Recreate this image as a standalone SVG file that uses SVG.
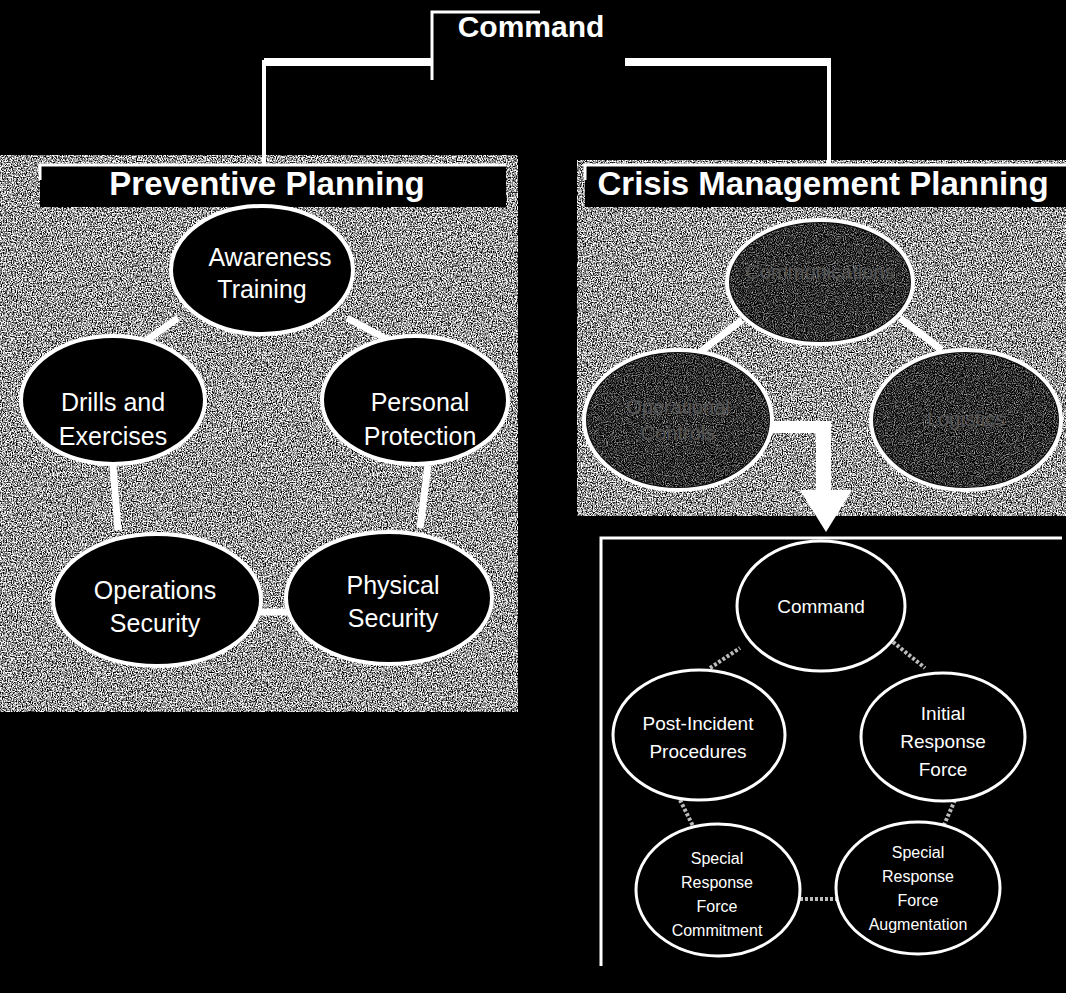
<svg xmlns="http://www.w3.org/2000/svg" width="1066" height="993" viewBox="0 0 1066 993">
<defs>
<filter id="grain" x="0" y="0" width="100%" height="100%" color-interpolation-filters="sRGB">
<feTurbulence type="fractalNoise" baseFrequency="0.8" numOctaves="2" seed="3" result="n"/>
<feColorMatrix in="n" type="matrix" values="3 0 0 0 -0.9  3 0 0 0 -0.9  3 0 0 0 -0.9  0 0 0 0 1" result="g"/>
<feComposite in="g" in2="SourceGraphic" operator="in"/>
</filter>
<filter id="grainDark" x="0" y="0" width="100%" height="100%" color-interpolation-filters="sRGB">
<feTurbulence type="fractalNoise" baseFrequency="0.9" numOctaves="2" seed="9" result="n"/>
<feColorMatrix in="n" type="matrix" values="1.6 0 0 0 -0.62  1.6 0 0 0 -0.62  1.6 0 0 0 -0.62  0 0 0 0 1" result="g"/>
<feComposite in="g" in2="SourceGraphic" operator="in"/>
</filter>
</defs>
<style>
.hdr{font-family:"Liberation Sans",Arial,sans-serif;font-weight:bold;fill:#fff;text-anchor:middle}
.lbl{font-family:"Liberation Sans",Arial,sans-serif;fill:#fff;text-anchor:middle}
.big{font-size:25px}
.mid{font-size:19px}
.sm{font-size:16px}
.ghost{font-family:"Liberation Sans",Arial,sans-serif;fill:#555;text-anchor:middle;font-size:20px}
.nodeL{fill:#000;stroke:#fff;stroke-width:4}
.nodeC{fill:#101010;stroke:#fff;stroke-width:4}
.nodeB{fill:#000;stroke:#fff;stroke-width:3}
.wline{stroke:#fff;fill:none}
.conn{stroke:#fff;stroke-width:7;fill:none}
.conn2{stroke:#bbb;stroke-width:4;fill:none;stroke-dasharray:3 2}
</style>
<rect x="0" y="0" width="1066" height="993" fill="#000"/>

<!-- textured panels -->
<g id="panel-preventive">
<rect x="0" y="155" width="518" height="557" fill="#a0a0a0" filter="url(#grain)"/>
</g>
<g id="panel-crisis">
<rect x="577" y="160" width="489" height="356" fill="#a0a0a0" filter="url(#grain)"/>
</g>
<g id="panel-response">
<rect x="600" y="537" width="466" height="430" fill="#000"/>
<path class="wline" stroke-width="3" d="M601,966 V538 H1062"/>
</g>

<!-- connectors -->
<g id="connectors">
<path class="wline" stroke-width="3" d="M432,80 V12 H540"/>
<path class="wline" stroke-width="8" d="M432,62 H264"/>
<path class="wline" stroke-width="4" d="M264,60 V165"/>
<path class="wline" stroke-width="8" d="M625,62 H831"/>
<path class="wline" stroke-width="4" d="M829,60 V165"/>

<path class="conn" d="M140,345 L178,318"/>
<path class="conn" d="M347,318 L398,345"/>
<path class="conn" d="M113,465 L118,530"/>
<path class="conn" d="M428,465 L420,528"/>
<path class="conn" d="M260,612 L288,612"/>

<path class="conn" d="M700,352 L742,320"/>
<path class="conn" d="M900,318 L942,350"/>

<path class="conn2" d="M710,668 L740,648"/>
<path class="conn2" d="M893,642 L925,668"/>
<path class="conn2" d="M680,800 L693,826"/>
<path class="conn2" d="M955,800 L944,825"/>
<path class="conn2" d="M800,899 L836,899"/>
</g>

<g id="header-command">
<text class="hdr" x="531" y="37" font-size="30">Command</text>
</g>
<g id="header-preventive">
<rect x="40" y="165" width="466" height="42" fill="#000"/>
<path class="wline" stroke-width="3" d="M40,180 V165 H506"/>
<text class="hdr" x="267" y="195" font-size="33">Preventive Planning</text>
</g>
<g id="header-crisis">
<rect x="585" y="165" width="481" height="42" fill="#000"/>
<path class="wline" stroke-width="3" d="M585,180 V165 H1066"/>
<text class="hdr" x="823" y="195" font-size="33">Crisis Management Planning</text>
</g>

<!-- preventive nodes -->
<g id="n-awareness">
<ellipse class="nodeL" cx="262" cy="270" rx="91" ry="64"/>
<text class="lbl big" x="270" y="266">Awareness</text>
<text class="lbl big" x="262" y="298">Training</text>
</g>
<g id="n-drills">
<ellipse class="nodeL" cx="113" cy="400" rx="92" ry="64"/>
<text class="lbl big" x="113" y="411">Drills and</text>
<text class="lbl big" x="113" y="445">Exercises</text>
</g>
<g id="n-personal">
<ellipse class="nodeL" cx="415" cy="400" rx="93" ry="64"/>
<text class="lbl big" x="420" y="411">Personal</text>
<text class="lbl big" x="420" y="445">Protection</text>
</g>
<g id="n-opsec">
<ellipse class="nodeL" cx="157" cy="600" rx="104" ry="66"/>
<text class="lbl big" x="155" y="599">Operations</text>
<text class="lbl big" x="155" y="632">Security</text>
</g>
<g id="n-physical">
<ellipse class="nodeL" cx="389" cy="598" rx="103" ry="66"/>
<text class="lbl big" x="393" y="594">Physical</text>
<text class="lbl big" x="393" y="627">Security</text>
</g>

<!-- crisis nodes -->
<g id="n-communications">
<ellipse class="nodeC" cx="820" cy="282" rx="93" ry="62"/>
<ellipse cx="820" cy="282" rx="90" ry="59" fill="#333" filter="url(#grainDark)"/>
<text class="ghost" x="820" y="279">Communications</text>
</g>
<g id="n-operational">
<ellipse class="nodeC" cx="678" cy="420" rx="94" ry="70"/>
<ellipse cx="678" cy="420" rx="91" ry="67" fill="#333" filter="url(#grainDark)"/>
<text class="ghost" x="678" y="414">Operational</text>
<text class="ghost" x="678" y="440">Controls</text>
</g>
<g id="n-logistics">
<ellipse class="nodeC" cx="966" cy="420" rx="95" ry="70"/>
<ellipse cx="966" cy="420" rx="92" ry="67" fill="#333" filter="url(#grainDark)"/>
<text class="ghost" x="966" y="426">Logistics</text>
</g>

<!-- big arrow -->
<g id="arrow">
<path d="M772,421 H831 V490 H852 L826,532 L800,490 H816 V433 H772 Z" fill="#fff"/>
</g>

<!-- response nodes -->
<g id="n-command2">
<ellipse class="nodeB" cx="821" cy="606" rx="84" ry="65"/>
<text class="lbl mid" x="821" y="613">Command</text>
</g>
<g id="n-postincident">
<ellipse class="nodeB" cx="699" cy="735" rx="86" ry="65"/>
<text class="lbl mid" x="698" y="730">Post-Incident</text>
<text class="lbl mid" x="698" y="758">Procedures</text>
</g>
<g id="n-initial">
<ellipse class="nodeB" cx="943" cy="737" rx="82" ry="64"/>
<text class="lbl mid" x="943" y="720">Initial</text>
<text class="lbl mid" x="943" y="748">Response</text>
<text class="lbl mid" x="943" y="776">Force</text>
</g>
<g id="n-commitment">
<ellipse class="nodeB" cx="718" cy="890" rx="82" ry="66"/>
<text class="lbl sm" x="717" y="864">Special</text>
<text class="lbl sm" x="717" y="888">Response</text>
<text class="lbl sm" x="717" y="912">Force</text>
<text class="lbl sm" x="717" y="936">Commitment</text>
</g>
<g id="n-augmentation">
<ellipse class="nodeB" cx="918" cy="888" rx="82" ry="66"/>
<text class="lbl sm" x="918" y="858">Special</text>
<text class="lbl sm" x="918" y="882">Response</text>
<text class="lbl sm" x="918" y="906">Force</text>
<text class="lbl sm" x="918" y="930">Augmentation</text>
</g>
</svg>
